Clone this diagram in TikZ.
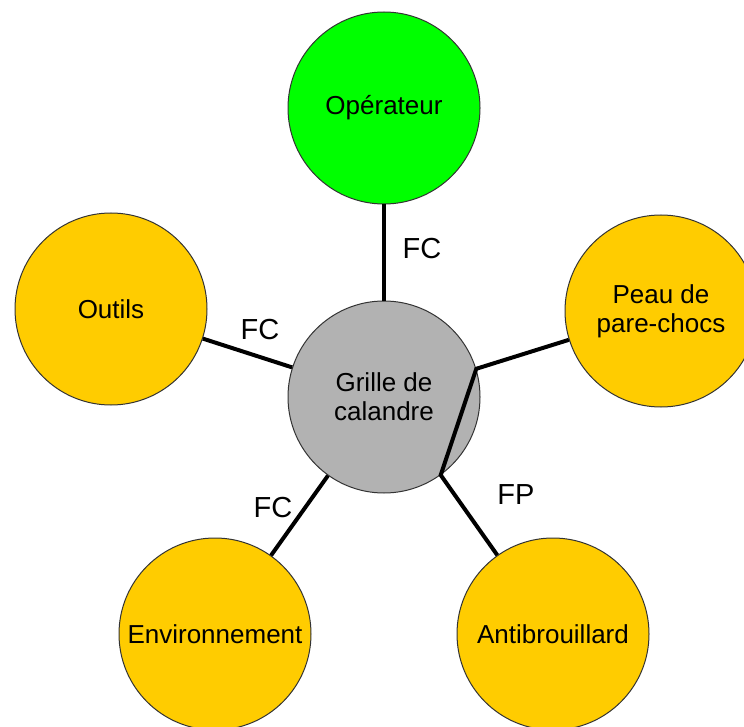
\documentclass[tikz,border=0pt]{standalone}
\usepackage{fontspec}
\setmainfont{Liberation Sans}
\usetikzlibrary{positioning}
\definecolor{opgreen}{RGB}{0,255,0}
\definecolor{extorange}{RGB}{255,204,0}
\definecolor{gcgray}{RGB}{178,178,178}

\begin{document}
\begin{tikzpicture}[
      x=0.5pt, y=-0.5pt,
      elem/.style={circle, draw=black!80, line width=0.5pt, minimum size=96pt,
                   inner sep=0pt, align=center,
                   font=\fontsize{13}{14.5}\selectfont},
      link/.style={line width=2pt, draw=black},
      fct/.style={font=\fontsize{14.5}{17}\selectfont}
    ]
    \useasboundingbox (0,0) rectangle (744,727);
    % elements
    \node[elem, fill=gcgray] (gc) at (384,397) {Grille de\\calandre};
    \node[elem, fill=opgreen] (op) at (384,108) {Opérateur};
    \node[elem, fill=extorange] (outils) at (111,309) {Outils};
    \node[elem, fill=extorange] (peau) at (661,311) {Peau de\\pare-chocs};
    \node[elem, fill=extorange] (env) at (215,634) {Environnement};
    \node[elem, fill=extorange] (anti) at (553,634) {Antibrouillard};
    % links
    \draw[link] (op) -- (gc);
    \draw[link] (outils) -- (gc);
    \draw[link] (env) -- (gc);
    \draw[link, line join=miter] (peau) -- (gc.17) -- (gc.-54.5) -- (anti);
    % functions
    \node[fct] (fc1) at (422,249) {FC};
    \node[fct] (fc2) at (260,330) {FC};
    \node[fct] (fc3) at (273,508) {FC};
    \node[fct] (fp1) at (516,495) {FP};
  \end{tikzpicture}
\end{document}
